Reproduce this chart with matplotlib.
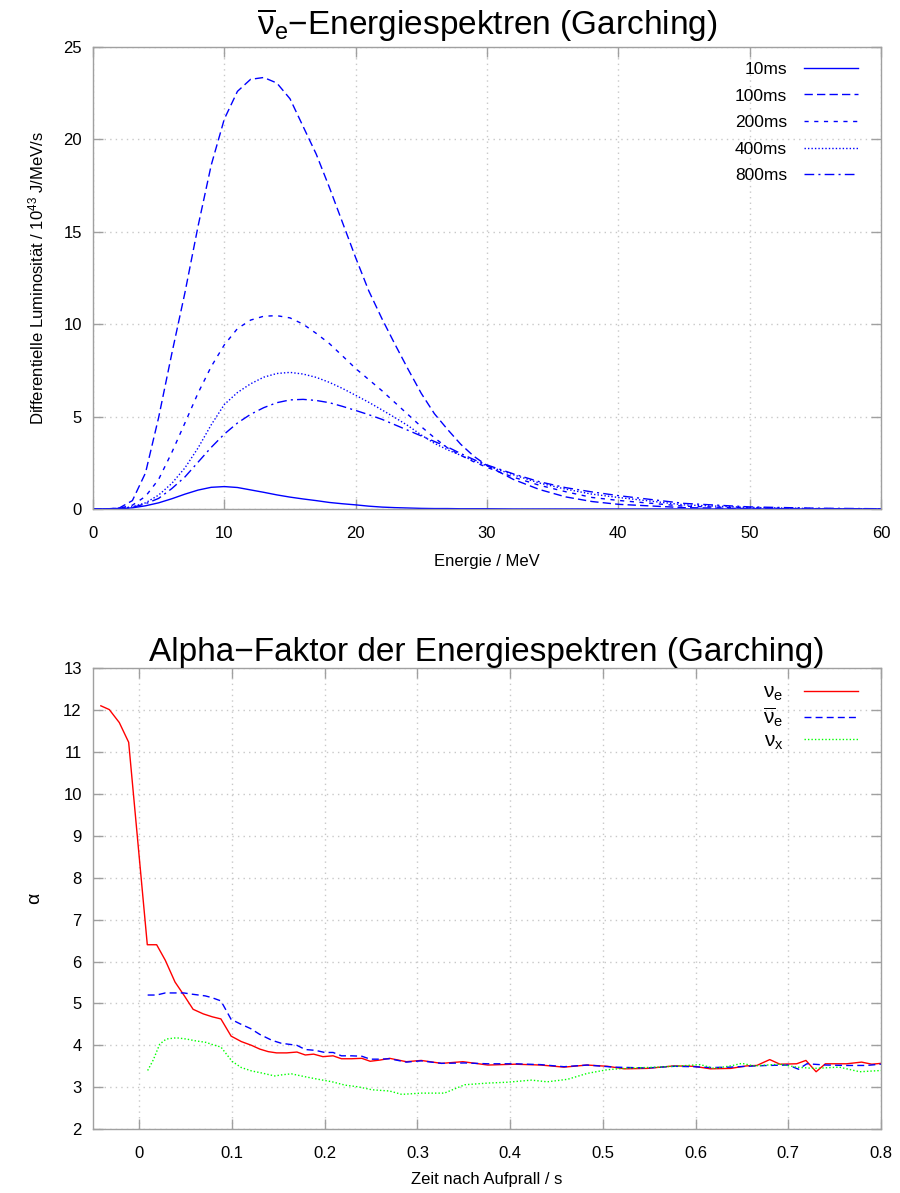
import numpy as np
import matplotlib
matplotlib.use("Agg")
import matplotlib.pyplot as plt

plt.rcParams['font.family'] = ['Liberation Sans', 'DejaVu Sans']
plt.rcParams['mathtext.fontset'] = 'custom'
plt.rcParams['mathtext.rm'] = 'Liberation Sans'
plt.rcParams['mathtext.it'] = 'Liberation Sans'
plt.rcParams['mathtext.bf'] = 'Liberation Sans:bold'

# --- Energiespektren (anti nu_e) ---
energie = [0, 1, 2, 3, 4, 5, 6, 7, 8, 9, 10, 11, 12, 13, 14, 15, 16, 17, 18, 19, 20,
           21, 22, 23, 24, 25, 26, 27, 28, 29, 30, 32, 34, 36, 38, 40, 45, 50, 55, 60]
spec_10ms = [0, 0, 0.01, 0.06, 0.17, 0.33, 0.55, 0.80, 1.02, 1.17, 1.21, 1.16, 1.03, 0.90,
             0.76, 0.64, 0.54, 0.45, 0.35, 0.28, 0.22, 0.15, 0.10, 0.07, 0.05, 0.03, 0.02,
             0.02, 0.01, 0.01, 0.01, 0, 0, 0, 0, 0, 0, 0, 0, 0]
spec_100ms = [0, 0, 0.05, 0.45, 1.95, 4.95, 8.4, 11.7, 15.3, 18.6, 21.1, 22.6, 23.25, 23.35,
              23.05, 22.2, 20.7, 19.2, 17.4, 15.5, 13.6, 11.8, 10.3, 8.9, 7.55, 6.25, 5.15,
              4.3, 3.5, 2.85, 2.35, 1.6, 1.05, 0.65, 0.4, 0.25, 0.07, 0.02, 0, 0]
spec_200ms = [0, 0, 0.04, 0.2, 0.68, 1.6, 3.05, 4.65, 6.27, 7.7, 8.88, 9.76, 10.22, 10.43,
              10.46, 10.34, 10.0, 9.5, 8.95, 8.28, 7.6, 7.0, 6.4, 5.75, 5.1, 4.45, 3.85,
              3.3, 2.9, 2.55, 2.25, 1.72, 1.28, 0.93, 0.62, 0.46, 0.15, 0.05, 0.01, 0]
spec_400ms = [0, 0, 0.03, 0.12, 0.33, 0.75, 1.38, 2.22, 3.3, 4.55, 5.65, 6.3, 6.77, 7.13,
              7.33, 7.39, 7.3, 7.12, 6.85, 6.52, 6.15, 5.77, 5.36, 4.94, 4.5, 4.0, 3.55,
              3.2, 2.9, 2.6, 2.33, 1.85, 1.4, 1.07, 0.8, 0.62, 0.22, 0.08, 0.02, 0]
spec_800ms = [0, 0, 0.02, 0.08, 0.28, 0.57, 1.1, 1.73, 2.53, 3.33, 4.05, 4.65, 5.12, 5.48,
              5.75, 5.9, 5.93, 5.87, 5.75, 5.55, 5.33, 5.1, 4.85, 4.55, 4.25, 3.95, 3.65,
              3.35, 3.0, 2.67, 2.38, 1.9, 1.47, 1.15, 0.92, 0.72, 0.3, 0.11, 0.04, 0.01]

# --- Alpha-Faktor ---
t_ne = [-0.0415, -0.0324, -0.0216, -0.0115, 0.0086, 0.0187, 0.028, 0.0385, 0.048, 0.058,
        0.069, 0.0788, 0.088, 0.099, 0.110, 0.121, 0.130, 0.139, 0.148, 0.159, 0.170,
        0.179, 0.188, 0.198, 0.209, 0.218, 0.229, 0.240, 0.249, 0.26, 0.270, 0.288,
        0.304, 0.326, 0.349, 0.376, 0.405, 0.433, 0.458, 0.483, 0.505, 0.523, 0.548,
        0.577, 0.598, 0.616, 0.638, 0.655, 0.666, 0.680, 0.691, 0.709, 0.719, 0.730,
        0.740, 0.763, 0.779, 0.790, 0.8]
alpha_ne = [12.1, 12.01, 11.7, 11.23, 6.40, 6.40, 6.03, 5.51, 5.2, 4.86, 4.75, 4.68, 4.63,
            4.22, 4.09, 4.0, 3.91, 3.85, 3.82, 3.82, 3.84, 3.77, 3.79, 3.73, 3.75, 3.68,
            3.68, 3.69, 3.62, 3.65, 3.69, 3.61, 3.64, 3.57, 3.61, 3.53, 3.55, 3.53, 3.48,
            3.53, 3.5, 3.44, 3.45, 3.51, 3.5, 3.44, 3.45, 3.51, 3.52, 3.66, 3.55, 3.56,
            3.64, 3.37, 3.56, 3.56, 3.60, 3.55, 3.57]
t_nebar = [0.009, 0.0187, 0.028, 0.048, 0.057, 0.071, 0.078, 0.088, 0.099, 0.109, 0.12,
           0.130, 0.143, 0.153, 0.170, 0.179, 0.19, 0.2, 0.209, 0.218, 0.229, 0.24, 0.249,
           0.26, 0.27, 0.288, 0.304, 0.326, 0.351, 0.376, 0.405, 0.433, 0.458, 0.483,
           0.512, 0.548, 0.577, 0.598, 0.616, 0.638, 0.655, 0.677, 0.7, 0.711, 0.72,
           0.741, 0.763, 0.784, 0.8]
alpha_nebar = [5.2, 5.2, 5.25, 5.25, 5.22, 5.18, 5.14, 5.06, 4.62, 4.51, 4.40, 4.26, 4.12,
               4.05, 4.0, 3.9, 3.88, 3.83, 3.83, 3.75, 3.75, 3.74, 3.67, 3.67, 3.68, 3.6,
               3.63, 3.57, 3.58, 3.56, 3.56, 3.54, 3.49, 3.53, 3.48, 3.46, 3.5, 3.49, 3.47,
               3.48, 3.5, 3.52, 3.53, 3.43, 3.56, 3.53, 3.52, 3.52, 3.55]
t_nx = [0.009, 0.015, 0.022, 0.029, 0.040, 0.051, 0.06, 0.072, 0.08, 0.088, 0.1, 0.11,
        0.121, 0.132, 0.146, 0.155, 0.164, 0.179, 0.193, 0.208, 0.222, 0.236, 0.251, 0.27,
        0.283, 0.304, 0.329, 0.351, 0.376, 0.397, 0.423, 0.44, 0.462, 0.483, 0.505, 0.530,
        0.559, 0.584, 0.605, 0.62, 0.638, 0.65, 0.663, 0.691, 0.709, 0.727, 0.755, 0.777,
        0.8]
alpha_nx = [3.40, 3.65, 4.03, 4.15, 4.18, 4.15, 4.11, 4.07, 4.01, 3.96, 3.62, 3.47, 3.39,
            3.34, 3.27, 3.30, 3.32, 3.25, 3.19, 3.13, 3.05, 3.01, 2.94, 2.91, 2.83, 2.86,
            2.86, 3.06, 3.10, 3.12, 3.17, 3.13, 3.19, 3.33, 3.42, 3.46, 3.48, 3.51, 3.54,
            3.45, 3.51, 3.57, 3.51, 3.55, 3.48, 3.45, 3.48, 3.37, 3.40]

frame_col = '#a0a0a0'
grid_col = '#c8c8c8'


def style_axes(ax):
    for s in ax.spines.values():
        s.set_color(frame_col)
        s.set_linewidth(1.0)
    ax.tick_params(direction='in', length=7, width=1, color=frame_col,
                   top=True, right=True, labelsize=12, labelcolor='black')
    ax.tick_params(axis='x', pad=12)
    ax.tick_params(axis='y', pad=8)
    ax.grid(True, color=grid_col, linestyle=(0, (1, 3)), linewidth=1.0)
    ax.set_axisbelow(True)


fig = plt.figure(figsize=(9, 11.93), dpi=100)

# top: spectra
ax1 = fig.add_axes([0.1033, 0.5734, 0.8756, 0.3872])
ax1.plot(energie, spec_10ms, color='blue', lw=1.0, ls='-', label='10ms')
ax1.plot(energie, spec_100ms, color='blue', lw=1.0, ls=(0, (6, 3)), label='100ms')
ax1.plot(energie, spec_200ms, color='blue', lw=1.0, ls=(0, (3, 4)), label='200ms')
ax1.plot(energie, spec_400ms, color='blue', lw=1.0, ls=(0, (1, 1.5)), label='400ms')
ax1.plot(energie, spec_800ms, color='blue', lw=1.0, ls=(0, (7, 3, 1.5, 3)), label='800ms')
ax1.set_xlim(0, 60)
ax1.set_ylim(0, 25)
ax1.set_xticks(range(0, 61, 10))
ax1.set_yticks(range(0, 26, 5))
style_axes(ax1)
ax1.set_title(r'$\overline{\nu}_{\mathrm{e}}$' + '\u2212Energiespektren (Garching)',
              fontsize=24, pad=9)
ax1.set_xlabel('Energie / MeV', fontsize=12, labelpad=10)
ax1.set_ylabel(r'Differentielle Luminosität / 10$^{43}$ J/MeV/s', fontsize=12, labelpad=12)
ax1.legend(loc='upper right', bbox_to_anchor=(0.980, 0.983), borderaxespad=0,
           frameon=False, markerfirst=False, fontsize=12.5,
           handlelength=3.1, labelspacing=0.66, handletextpad=1.0)

# bottom: alpha
ax2 = fig.add_axes([0.1033, 0.0535, 0.8756, 0.3865])
ax2.plot(t_ne, alpha_ne, color='#ff0000', lw=1.0, ls='-', label=r'$\nu_{\mathrm{e}}$')
ax2.plot(t_nebar, alpha_nebar, color='#0000ff', lw=1.0, ls=(0, (5, 3)),
         label=r'$\overline{\nu}_{\mathrm{e}}$')
ax2.plot(t_nx, alpha_nx, color='#00ff00', lw=1.0, ls=(0, (1, 1.5)),
         label=r'$\nu_{\mathrm{x}}$')
ax2.set_xlim(-0.05, 0.8)
ax2.set_ylim(2, 13)
ax2.set_xticks(np.arange(0, 0.81, 0.1))
ax2.set_xticklabels(['0', '0.1', '0.2', '0.3', '0.4', '0.5', '0.6', '0.7', '0.8'])
ax2.set_yticks(range(2, 14))
style_axes(ax2)
ax2.set_title('Alpha\u2212Faktor der Energiespektren (Garching)', fontsize=24, pad=5)
ax2.set_xlabel('Zeit nach Aufprall / s', fontsize=12, labelpad=8)
ax2.set_ylabel(r'$\alpha$', fontsize=14, labelpad=14)
ax2.legend(loc='upper right', bbox_to_anchor=(0.9817, 0.986), borderaxespad=0,
           frameon=False, markerfirst=False, fontsize=15,
           handlelength=2.6, labelspacing=0.12, handletextpad=1.0)

fig.savefig('out.png', dpi=100)
